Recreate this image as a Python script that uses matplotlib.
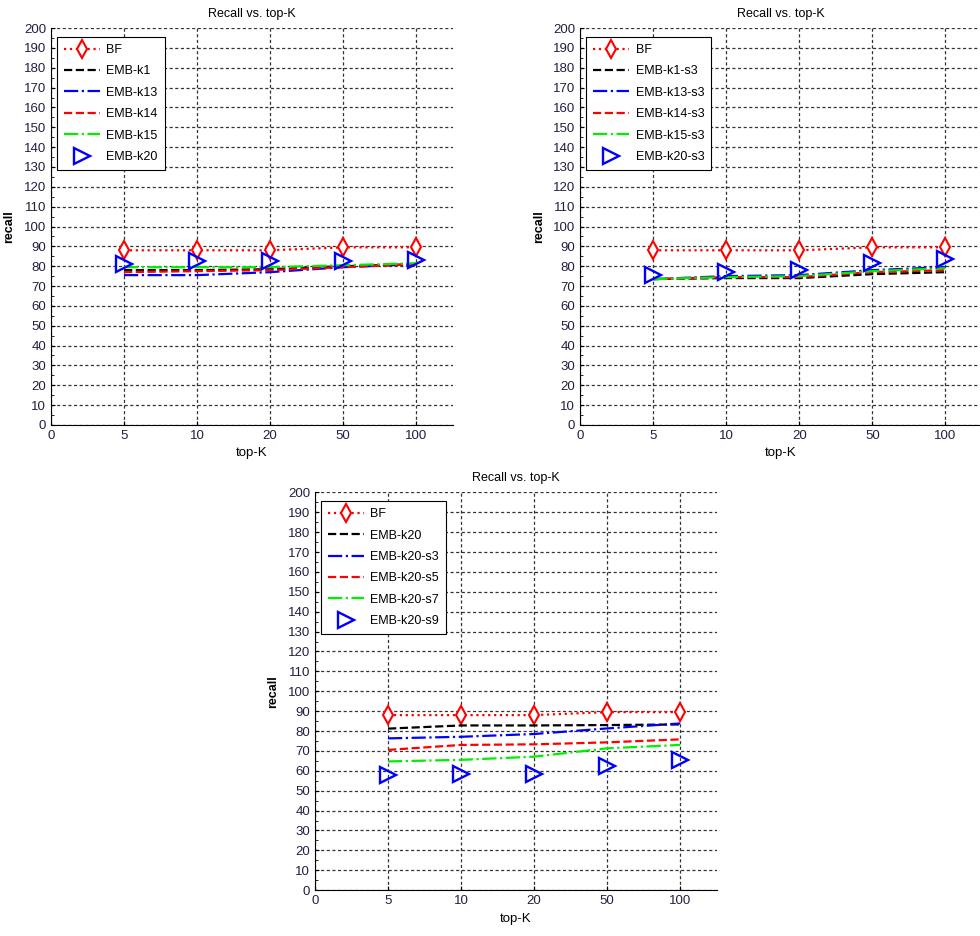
import numpy as np
import matplotlib
matplotlib.use("Agg")
import matplotlib.pyplot as plt
from matplotlib.ticker import MultipleLocator

plt.rcParams['font.family'] = ['Liberation Sans', 'DejaVu Sans']

topk = ['0', '5', '10', '20', '50', '100']
xpos = [1, 2, 3, 4, 5]

# top-left panel
bf = [88, 88, 88, 89.5, 89.5]
k1 = [78, 78, 78.5, 80, 81]
k13 = [75.5, 75.5, 77, 79.5, 81]
k14 = [77, 77.5, 78, 79.5, 81]
k15 = [79.5, 79.5, 79.5, 80.5, 81.5]
k20 = [81, 82.5, 82.5, 82.5, 83]
names_a = ['BF', 'EMB-k1', 'EMB-k13', 'EMB-k14', 'EMB-k15', 'EMB-k20']

# top-right panel
k1_s3 = [73.5, 74, 74, 76, 77]
k13_s3 = [73.5, 75, 75.5, 78, 79.5]
k14_s3 = [73.5, 74.5, 74.5, 77, 78]
k15_s3 = [73.5, 74.5, 75, 77.5, 79]
k20_s3 = [75.7, 77, 78, 81.8, 83.8]
names_b = ['BF', 'EMB-k1-s3', 'EMB-k13-s3', 'EMB-k14-s3', 'EMB-k15-s3', 'EMB-k20-s3']

# bottom panel
c_k20 = [81.2, 82.8, 82.8, 83, 83.3]
c_s3 = [76.3, 77.1, 78.5, 81.3, 83.8]
c_s5 = [70.5, 73, 73.3, 74.3, 75.8]
c_s7 = [64.7, 65.5, 67.1, 71.3, 73]
c_s9 = [58, 58.5, 58.5, 62.5, 65.5]
names_c = ['BF', 'EMB-k20', 'EMB-k20-s3', 'EMB-k20-s5', 'EMB-k20-s7', 'EMB-k20-s9']

txt = '#202040'


def panel(ax, series, names):
    ax.plot(xpos, series[0], color='red', ls=':', lw=1.6, marker='d', ms=9,
            mfc='white', mec='red', mew=1.5, label=names[0])
    ax.plot(xpos, series[1], color='black', ls='--', lw=1.6, label=names[1])
    ax.plot(xpos, series[2], color='blue', ls='-.', lw=1.6, label=names[2])
    ax.plot(xpos, series[3], color='red', ls='--', lw=1.6, label=names[3])
    ax.plot(xpos, series[4], color='#00ee00', ls='-.', lw=1.6, label=names[4])
    ax.plot(xpos, series[5], ls='none', marker='>', ms=11, mfc='none',
            mec='blue', mew=1.7, label=names[5])
    ax.set_xlim(0, 5.5)
    ax.set_ylim(0, 200)
    ax.set_xticks(range(6))
    ax.set_xticklabels(topk)
    ax.yaxis.set_major_locator(MultipleLocator(10))
    ax.yaxis.set_minor_locator(MultipleLocator(5))
    ax.grid(True, color='#333333', ls=(0, (2.5, 2)), lw=0.9)
    ax.set_axisbelow(True)
    for s in ['top', 'right']:
        ax.spines[s].set_visible(False)
    ax.tick_params(direction='in', labelsize=9.5, colors='black', labelcolor=txt,
                   length=3)
    ax.tick_params(which='minor', direction='in', length=2)
    ax.set_title('Recall vs. top-K', fontsize=9, pad=8)
    ax.set_xlabel('top-K', fontsize=9.5, labelpad=4)
    ax.set_ylabel('recall', fontsize=9, fontweight='bold', labelpad=6)
    leg = ax.legend(loc='upper left', bbox_to_anchor=(0.015, 0.977),
                    borderaxespad=0, fontsize=9, fancybox=False, framealpha=1,
                    edgecolor='black', handlelength=2.9, handletextpad=0.5,
                    labelspacing=0.75, borderpad=0.55)
    leg.get_frame().set_linewidth(0.8)


fig = plt.figure(figsize=(9.8, 9.36), dpi=100)
ax1 = fig.add_axes([0.052, 0.546, 0.41, 0.424])
ax2 = fig.add_axes([0.592, 0.546, 0.41, 0.424])
ax3 = fig.add_axes([0.3214, 0.049, 0.41, 0.425])

panel(ax1, [bf, k1, k13, k14, k15, k20], names_a)
panel(ax2, [bf, k1_s3, k13_s3, k14_s3, k15_s3, k20_s3], names_b)
panel(ax3, [bf, c_k20, c_s3, c_s5, c_s7, c_s9], names_c)

fig.savefig('out.png', dpi=100)
